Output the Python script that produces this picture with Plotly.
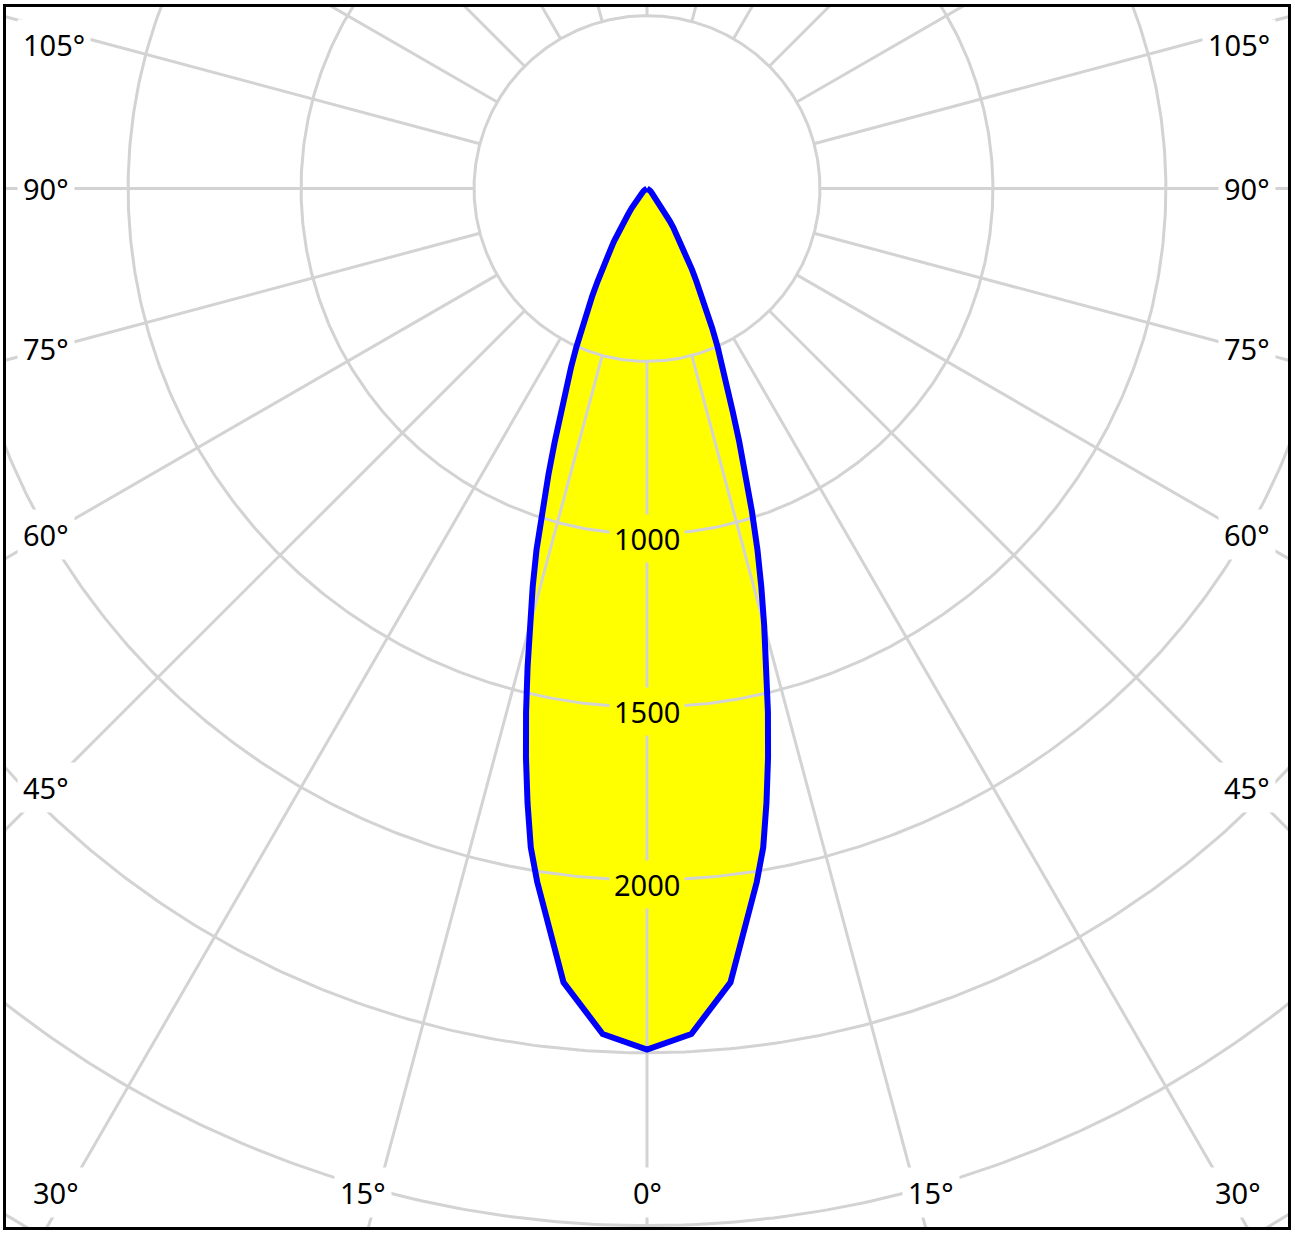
import numpy as np
import plotly.graph_objects as go

# ---- data (luminous intensity, cd, symmetric curve) ----
gamma_deg = [0, 3, 6, 9, 10, 11, 12, 13, 14, 15, 16, 17, 18, 19, 20, 21, 22, 23, 24,
             25, 26, 27, 28, 29, 30, 31, 32, 33, 34, 35, 36, 38, 40, 42, 45, 50, 55, 60,
             70, 80, 90]
intensity = [2491, 2449, 2309, 2030, 1935, 1810, 1683, 1554, 1427, 1309, 1199, 1092, 981,
             875, 780, 692, 624, 562, 502, 446, 394, 348, 304, 269, 235, 202, 180, 158,
             136, 114, 94, 72, 55, 42, 29, 16, 10, 6, 2, 1, 0]

ring_values = [500, 1000, 1500, 2000, 2500, 3000, 3500]
ring_labels = [1000, 1500, 2000]
spoke_angles = list(range(0, 360, 15))
side_label_angles = [45, 60, 75, 90, 105]
bottom_label_angles = [0, 15, 30]

# ---- geometry helpers ----
S = 0.3465          # px per cd
XMAX = 1853
YTOP = 525
YBOT = -3004
GRID = "#d3d3d3"
FONT = dict(family="Noto Sans, Open Sans, sans-serif", size=29, color="black")

def pol2xy(r, a_deg):
    a = np.radians(np.asarray(a_deg, dtype=float))
    r = np.asarray(r, dtype=float)
    return r * np.sin(a), -r * np.cos(a)

# closed symmetric curve
g = np.array(gamma_deg, dtype=float)
v = np.array(intensity, dtype=float)
ang = np.concatenate([-g[::-1], g[1:]])
val = np.concatenate([v[::-1], v[1:]])
cx, cy = pol2xy(val, ang)

fig = go.Figure()

# fill
fig.add_trace(go.Scatter(x=cx, y=cy, mode="lines", fill="toself", fillcolor="#ffff00",
                         line=dict(width=0, color="#ffff00"), hoverinfo="skip"))

# grid rings
t = np.linspace(0, 360, 721)
for rv in ring_values:
    gx, gy = pol2xy(np.full_like(t, rv), t)
    fig.add_trace(go.Scatter(x=gx, y=gy, mode="lines", line=dict(color=GRID, width=3),
                             hoverinfo="skip"))
# spokes
sx, sy = [], []
for a in spoke_angles:
    x0, y0 = pol2xy([500, 4200], [a, a])
    sx += [x0[0], x0[1], None]
    sy += [y0[0], y0[1], None]
fig.add_trace(go.Scatter(x=sx, y=sy, mode="lines", line=dict(color=GRID, width=3),
                         hoverinfo="skip"))

# outline
fig.add_trace(go.Scatter(x=cx, y=cy, mode="lines",
                         line=dict(color="#0000ff", width=6, shape="linear"),
                         hoverinfo="skip"))

annotations = []
PAD = 5
# radial value labels
for rv in ring_labels:
    annotations.append(dict(x=0, y=-rv - 12, text=str(rv), showarrow=False,
                            font=FONT, bgcolor="#ffff00", borderpad=4,
                            xanchor="center", yanchor="middle"))
# side angle labels
xl = -(648 - 23 + PAD + 1) / S
xr = (1272 + PAD + 1 - 648) / S
ylim = (186 - 42) / S
for a in side_label_angles:
    y = -(600 / S) / np.tan(np.radians(a)) if a != 90 else 0.0
    y = min(y, ylim)
    for xa, anc in ((xl, "left"), (xr, "right")):
        annotations.append(dict(x=xa, y=y, text=f"{a}°", showarrow=False, font=FONT,
                                bgcolor="white", borderpad=PAD, xanchor=anc,
                                yanchor="middle"))
# bottom angle labels
yb = (186 - 1192) / S
xlim = (1240 - 648) / S
for a in bottom_label_angles:
    xoff = -yb * np.tan(np.radians(a))
    if a:
        xoff = min(xoff + 15 / S, xlim)
    for sgn in ((1, -1) if a else (1,)):
        annotations.append(dict(x=sgn * xoff, y=yb, text=f"{a}°", showarrow=False,
                                font=FONT, bgcolor="white", borderpad=PAD,
                                xanchor="center", yanchor="middle"))

axis_common = dict(showgrid=False, zeroline=False, showticklabels=False, ticks="",
                   showline=True, mirror=True, linecolor="black", linewidth=3,
                   fixedrange=True)
fig.update_layout(
    width=1295, height=1233,
    margin=dict(l=6, r=5, t=4, b=6),
    paper_bgcolor="white", plot_bgcolor="white",
    showlegend=False,
    xaxis=dict(range=[-XMAX, XMAX], **axis_common),
    yaxis=dict(range=[YBOT, YTOP], **axis_common),
    annotations=annotations,
)

fig.write_html("out.html", config={"displayModeBar": False},
               post_script="document.body.style.margin='0';"
                           "document.body.style.overflow='hidden';")
